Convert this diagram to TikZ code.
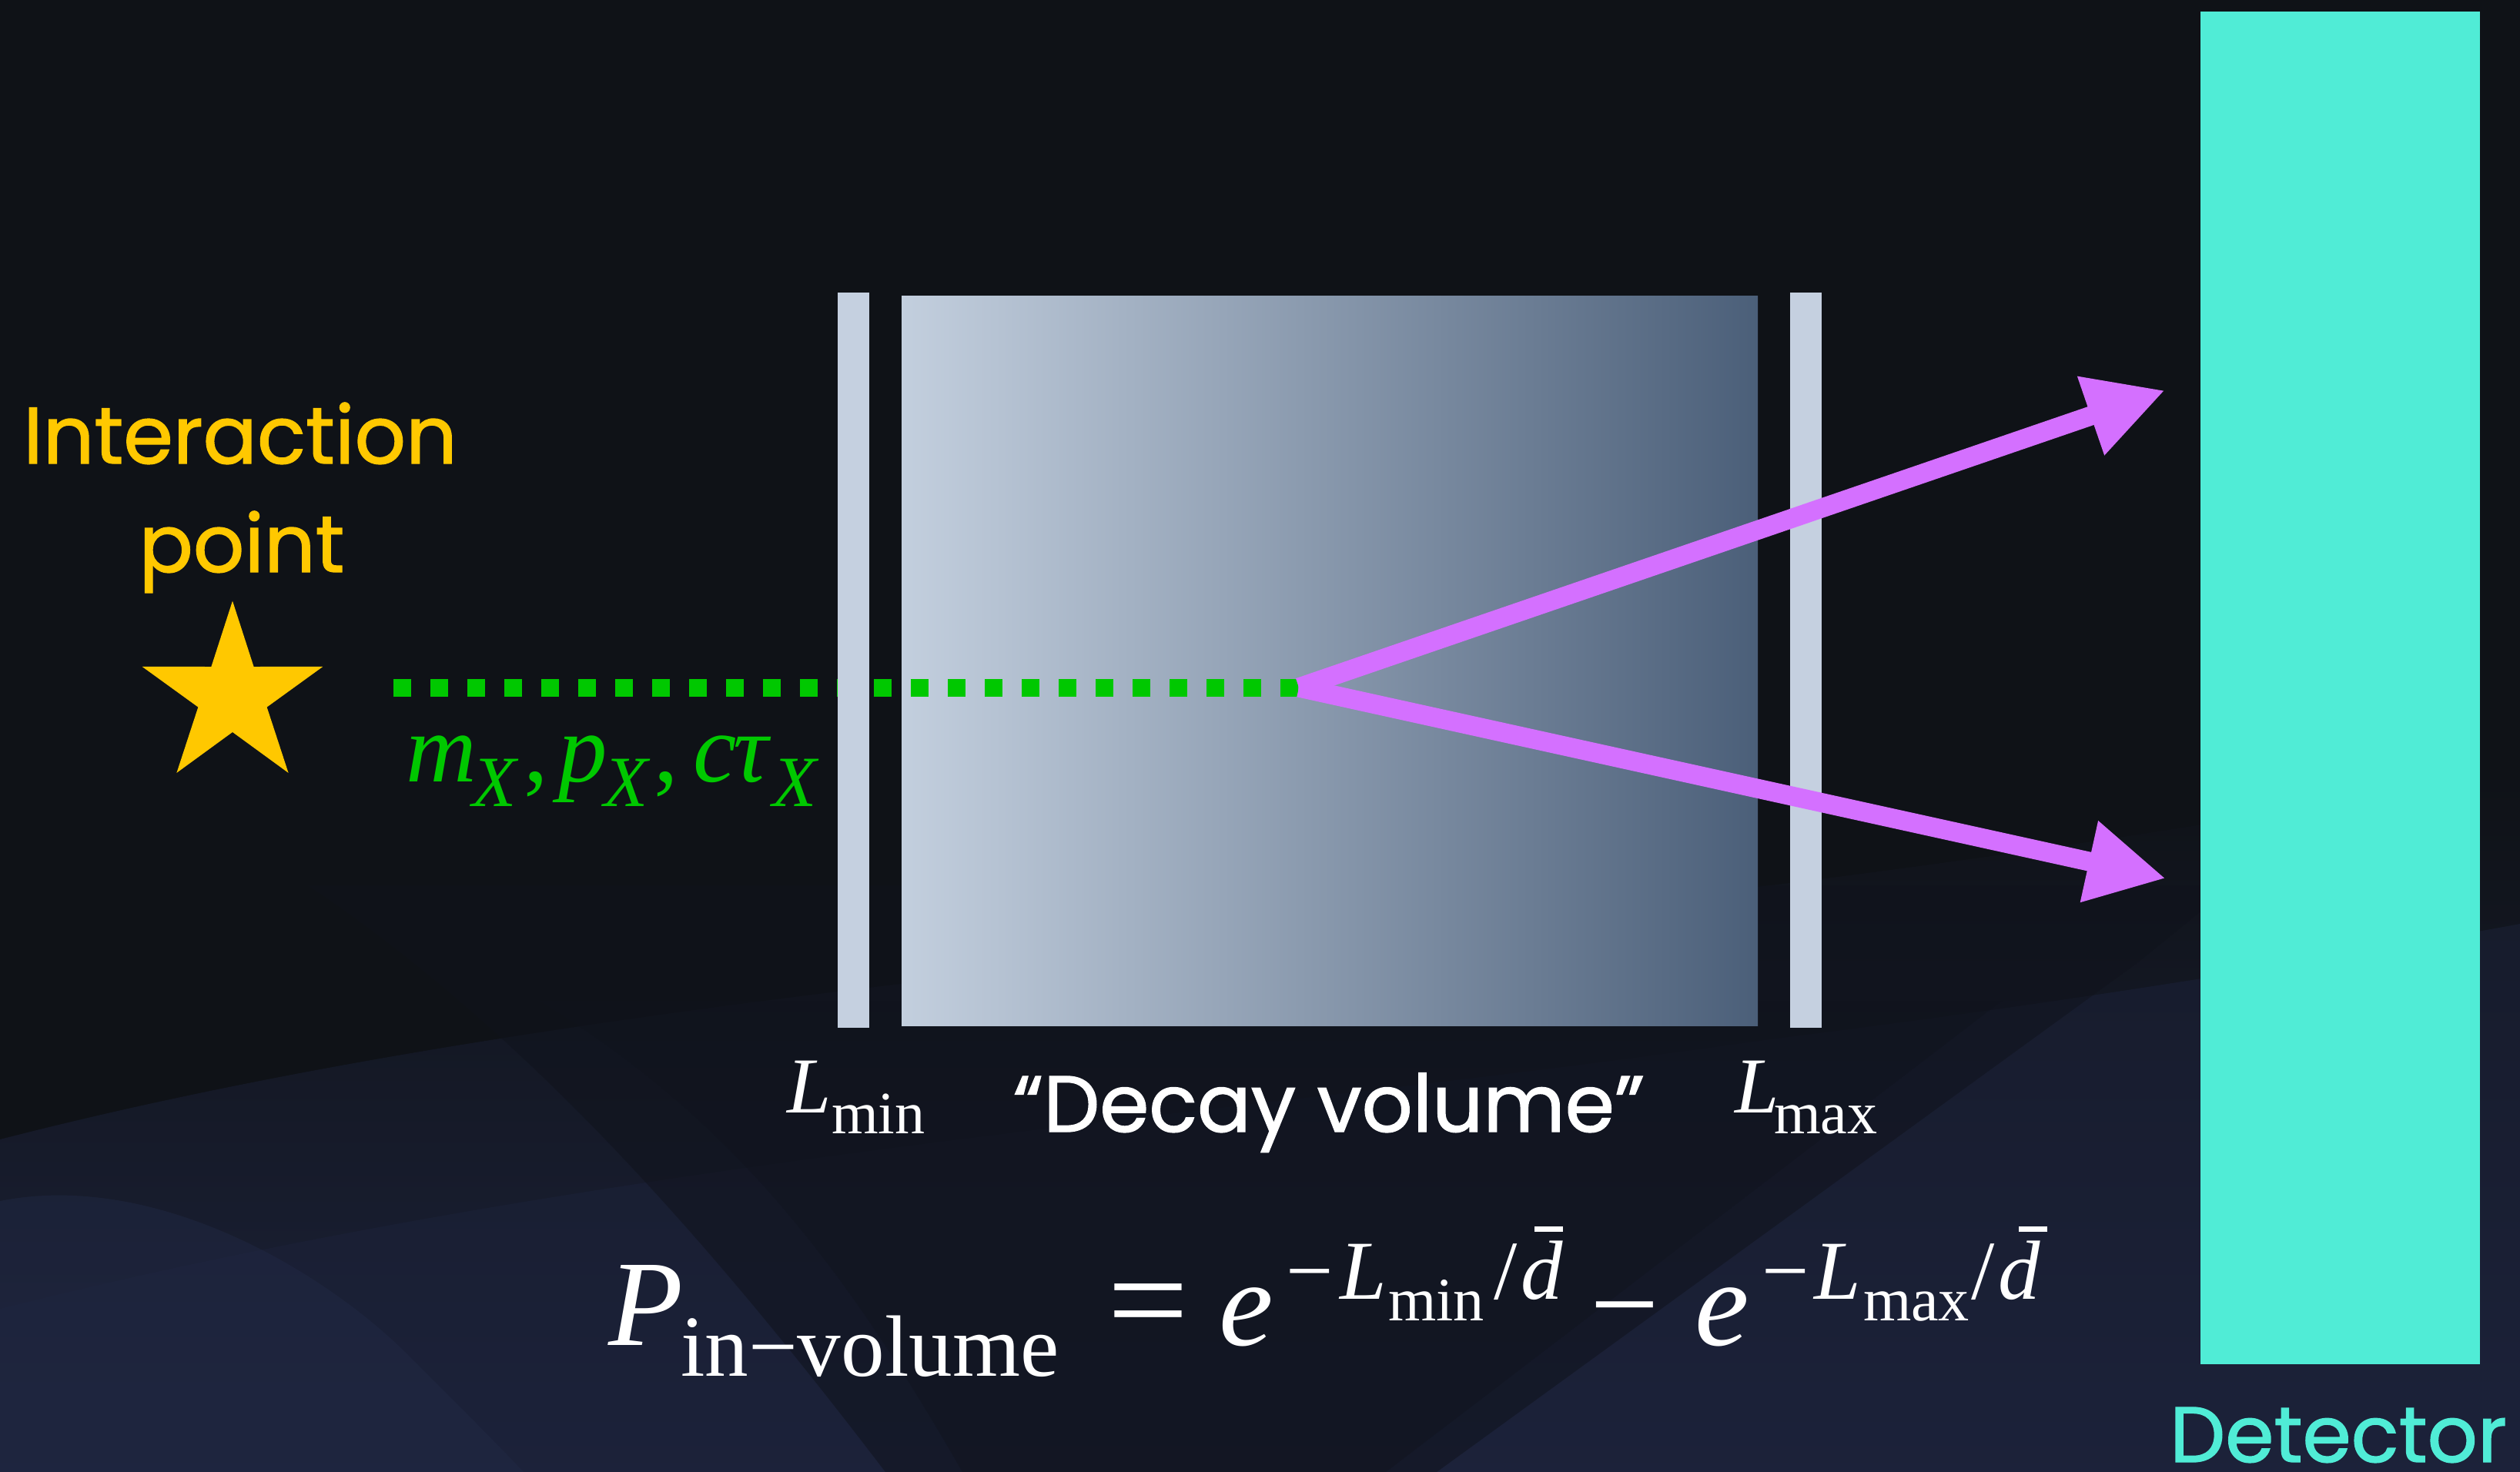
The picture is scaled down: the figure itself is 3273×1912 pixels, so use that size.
\documentclass[tikz,border=0pt]{standalone}
\usepackage{fontspec}
\usepackage{graphicx}
\usetikzlibrary{arrows.meta,shapes.geometric}
\newfontfamily\pop{Poppins}[FakeBold=1.3]
\newfontfamily\tms{Liberation Serif}
\newcommand\fsz[1]{\fontsize{#1pt}{#1pt}\selectfont}
\definecolor{bgdark}{RGB}{15,18,23}
\definecolor{navy}{RGB}{28,34,58}
\definecolor{navylight}{RGB}{34,42,70}
\definecolor{wedge}{RGB}{16,19,28}
\definecolor{ipyellow}{RGB}{255,200,0}
\definecolor{trackgreen}{RGB}{0,200,0}
\definecolor{decaypurple}{RGB}{212,112,255}
\definecolor{detteal}{RGB}{80,236,214}
\definecolor{barblue}{RGB}{197,208,224}
\definecolor{boxleft}{RGB}{195,207,222}
\definecolor{boxright}{RGB}{75,95,121}
\tikzset{
  txt/.style={inner sep=0pt, outer sep=0pt, anchor=base west, text=white},
  mainm/.style={txt, font=\tms\fsz{45.2}},
  mainit/.style={txt, font=\tms\itshape\fsz{45.2}},
  supm/.style={txt, font=\tms\fsz{31}},
  supit/.style={txt, font=\tms\itshape\fsz{31}},
  subsub/.style={txt, font=\tms\fsz{22.8}},
  grit/.style={txt, text=trackgreen, font=\tms\itshape\fsz{36.1}},
  grup/.style={txt, text=trackgreen, font=\tms\fsz{36.1}},
  grsub/.style={txt, text=trackgreen, font=\tms\itshape\fsz{26.7}},
  labit/.style={txt, font=\tms\itshape\fsz{29.3}},
  labsub/.style={txt, font=\tms\fsz{22.2}},
  wall/.style={rectangle, fill=barblue, inner sep=0pt, minimum width=4.1mm, minimum height=95.5mm},
  decayarrow/.style={draw=decaypurple, line width=2.5mm, -{Triangle[length=10.2mm,width=10.1mm]}},
  sanslab/.style={inner sep=0pt, anchor=base, font=\pop\fsz{29.6}},
}
\begin{document}
\begin{tikzpicture}[x=0.1mm, y=-0.1mm]
\useasboundingbox (0,0) rectangle (3273,1912);
% background
\fill[bgdark] (0,0) rectangle (3273,1912);
\shade[top color=bgdark, bottom color=navy]
  (0,1480) .. controls (700,1300) and (1500,1250) .. (2300,1150)
  .. controls (2700,1100) and (3000,1050) .. (3273,1000)
  -- (3273,1912) -- (0,1912) -- cycle;
\fill[navy, opacity=0.5] (0,1700) .. controls (800,1500) and (1600,1450) .. (2300,1350)
  .. controls (2700,1300) and (3000,1250) .. (3273,1200) -- (3273,1912) -- (0,1912) -- cycle;
\fill[wedge, opacity=0.55] (400,1150) -- (2900,1150) -- (2777,1250) -- (1866,1912) -- (1150,1912)
  .. controls (950,1650) and (700,1350) .. (400,1150) -- cycle;
\fill[wedge, opacity=0.4] (700,1300) -- (2600,1300) -- (1800,1912) -- (1250,1912)
  .. controls (1100,1650) and (950,1450) .. (700,1300) -- cycle;
\fill[navylight, opacity=0.45] (0,1560) .. controls (200,1520) and (420,1650) .. (530,1760)
  .. controls (600,1830) and (650,1880) .. (680,1912) -- (0,1912) -- cycle;

% decay volume and walls
\node[rectangle, inner sep=0pt, minimum width=111.2mm, minimum height=94.8mm,
      left color=boxleft, right color=boxright] (box) at (1727,858) {};

% interaction point
\node[star, star points=5, star point ratio=2.63, minimum size=24.7mm, inner sep=0pt,
      fill=ipyellow, draw=none] (ip) at (302,904) {};
\node[sanslab, text=ipyellow] (iplab1) at (312,602) {Interaction};
\node[sanslab, text=ipyellow] (iplab2) at (314,743) {point};

% LLP track
\coordinate (trackstart) at (511,893);
\coordinate (vertex) at (1687,893);
\draw[trackgreen, line width=2.3mm, dash pattern=on 2.3mm off 2.5mm] (trackstart) -- (vertex);

\node[wall] (wallmin) at (1108.5,857.5) {};
\node[wall] (wallmax) at (2345,857.5) {};

% detector
\node[rectangle, fill=detteal, inner sep=0pt, minimum width=36.3mm, minimum height=175.7mm] (det) at (3039.5,893.5) {};
\node[sanslab, text=detteal, font=\pop\fsz{29}] (detlab) at (3037,1899) {Detector};

% decay products
\coordinate (tip1) at (2812,507);
\coordinate (tip2) at (2813,1141);
\draw[decayarrow] (vertex) -- (tip1);
\draw[decayarrow] (vertex) -- (tip2);

% green label
\node[grit] (gm) at (527,1015) {m};
\node[grsub] (gx1) at (613,1047) {X};
\node[grup] (gc1) at (680,1015) {,};
\node[grit] (gp) at (725,1015) {p};
\node[grsub] (gx2) at (784,1047) {X};
\node[grup] (gc2) at (849,1015) {,};
\node[grit] (gc) at (900,1015) {c};
\node[grit] (gtau) at (952,1015) {τ};
\node[grsub] (gx3) at (1003,1047) {X};

% labels below box
\node[labit] (lmin) at (1022,1445) {L};
\node[labsub] (lminsub) at (1080,1472) {min};
\node[sanslab, text=white, font=\pop\fsz{29.4}] (dvlab) at (1726,1470) {“Decay volume”};
\node[labit] (lmax) at (2253,1445) {L};
\node[labsub] (lmaxsub) at (2304,1472) {max};

% formula
\node[mainit] (fP) at (790,1747) {P};
\node[txt, font=\tms\fsz{32.2}] (fsub) at (884,1787) {in−volume};
\node[mainm] (feq) at (1438,1747) {\scalebox{1.18}[1.1]{=}};
\node[mainit] (fe1) at (1583,1747) {e};
\node[supm] (fm1) at (1670,1687) {−};
\node[supit] (fL1) at (1740,1687) {L};
\node[subsub] (fmin) at (1803,1715) {min};
\node[supm] (fs1) at (1940,1687) {/};
\node[supit] (fd1) at (1975,1687) {d};
\fill[white] (1993,1593) rectangle (2030,1600);
\node[mainm] (fminus) at (2065,1747) {−};
\node[mainit] (fe2) at (2201,1747) {e};
\node[supm] (fm2) at (2288,1687) {−};
\node[supit] (fL2) at (2356,1687) {L};
\node[subsub] (fmax) at (2420,1715) {max};
\node[supm] (fs2) at (2560,1687) {/};
\node[supit] (fd2) at (2595,1687) {d};
\fill[white] (2622,1593) rectangle (2659,1600);
\end{tikzpicture}
\end{document}
